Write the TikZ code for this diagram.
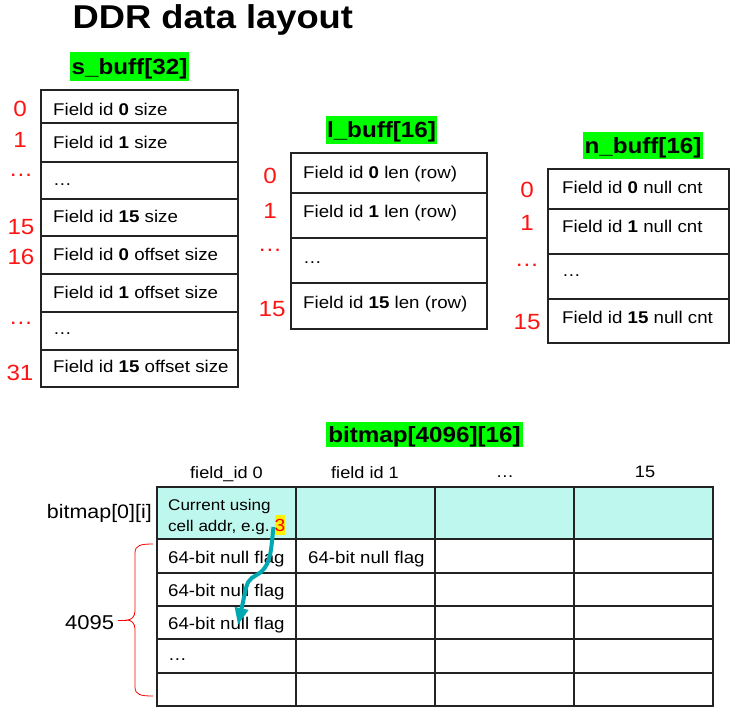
\documentclass[tikz,border=0pt]{standalone}
\usepackage{fontspec}
\setmainfont{Liberation Sans}[FakeStretch=1.1]
\usetikzlibrary{arrows.meta}
\definecolor{lgreen}{RGB}{0,255,0}
\definecolor{idxred}{RGB}{255,20,20}
\definecolor{cyanfill}{RGB}{190,247,237}
\definecolor{tealarrow}{RGB}{0,168,178}
\definecolor{gridc}{RGB}{35,35,35}
\newcommand{\fsz}[1]{\fontsize{#1}{#1}\selectfont}
\tikzset{
  tbl/.style={draw=gridc, line width=1.5pt},
  cellt/.style={anchor=west, inner sep=0pt, text height=12.2pt, text depth=0pt, font=\fsz{17}},
  idx/.style={anchor=center, inner sep=0pt, text height=15.8pt, text depth=0pt, text=idxred, font=\fsz{22}},
  lab/.style={anchor=center, inner sep=0pt, text height=15.8pt, text depth=0pt, font=\fsz{22}\bfseries},
  hdr/.style={anchor=center, inner sep=0pt, text height=11.8pt, text depth=0pt, font=\fsz{16.5}},
  small/.style={anchor=west, inner sep=0pt, text height=11.1pt, text depth=0pt, font=\fsz{15.5}},
}
\begin{document}
\begin{tikzpicture}[x=1pt,y=-1pt]
\useasboundingbox (0,0) rectangle (752,718);
\fill[white] (0,0) rectangle (752,718);

% title
\node[anchor=west, inner sep=0pt, text height=23.6pt, text depth=0pt, font=\fsz{33}\bfseries] (title) at (72.5,16.5) {DDR data layout};

% ---------- s_buff ----------
\fill[lgreen] (70,52) rectangle (189,81);
\node[lab] (slab) at (129.5,66.5) {s\_buff[32]};
\draw[tbl] (41,90) rectangle (238,387);
\foreach \yy in {123,162,199,236,274,312,350} \draw[tbl] (41,\yy) -- (238,\yy);
\node[cellt] (s0)  at (53,109)   {Field id \textbf{0} size};
\node[cellt] (s1)  at (53,142)   {Field id \textbf{1} size};
\node[cellt] (sd)  at (53,179)   {…};
\node[cellt] (s15) at (53,216.5) {Field id \textbf{15} size};
\node[cellt] (s16) at (53,254.5) {Field id \textbf{0} offset size};
\node[cellt] (s17) at (53,292)   {Field id \textbf{1} offset size};
\node[cellt] (sd2) at (53,328)   {…};
\node[cellt] (s31) at (53,366.5) {Field id \textbf{15} offset size};
\node[idx] (si0)  at (20,109)   {0};
\node[idx] (si1)  at (20,140)   {1};
\node[idx] (sid)  at (21,168.5) {…};
\node[idx] (si15) at (21,227)   {15};
\node[idx] (si16) at (21,257)   {16};
\node[idx] (sid2) at (21,316.5) {…};
\node[idx] (si31) at (20,373)   {31};

% ---------- l_buff ----------
\fill[lgreen] (326,116) rectangle (437,144);
\node[lab] (llab) at (381.5,130) {l\_buff[16]};
\draw[tbl] (291,153) rectangle (487,329);
\foreach \yy in {193,238,283} \draw[tbl] (291,\yy) -- (487,\yy);
\node[cellt] (l0)  at (303,172) {Field id \textbf{0} len (row)};
\node[cellt] (l1)  at (303,211) {Field id \textbf{1} len (row)};
\node[cellt] (ld)  at (303,257) {…};
\node[cellt] (l15) at (303,302) {Field id \textbf{15} len (row)};
\node[idx] (li0)  at (270,176)   {0};
\node[idx] (li1)  at (270,211)   {1};
\node[idx] (lid)  at (270,243.5) {…};
\node[idx] (li15) at (272,309)   {15};

% ---------- n_buff ----------
\fill[lgreen] (583,132) rectangle (703,159);
\node[lab] (nlab) at (643,145.5) {n\_buff[16]};
\draw[tbl] (548,169) rectangle (729,343);
\foreach \yy in {209,254,299} \draw[tbl] (548,\yy) -- (729,\yy);
\node[cellt] (n0)  at (562,187) {Field id \textbf{0} null cnt};
\node[cellt] (n1)  at (562,226) {Field id \textbf{1} null cnt};
\node[cellt] (nd)  at (562,270) {…};
\node[cellt] (n15) at (562,317) {Field id \textbf{15} null cnt};
\node[idx] (ni0)  at (527,190)   {0};
\node[idx] (ni1)  at (527,223)   {1};
\node[idx] (nid)  at (527,258.5) {…};
\node[idx] (ni15) at (527,322)   {15};

% ---------- bitmap ----------
\fill[lgreen] (326,422) rectangle (523,447);
\node[lab] (blab) at (424.5,434.5) {bitmap[4096][16]};
\node[hdr] (h0) at (226.5,472.5) {field\_id 0};
\node[hdr] (h1) at (365,472.5)   {field id 1};
\node[hdr] (hd) at (505,472)     {…};
\node[hdr] (h15) at (645,472)    {15};
\fill[cyanfill] (157,487) rectangle (713,539);
\draw[tbl, line width=1.8pt] (157,487) rectangle (713,706);
\foreach \yy in {539,573,606,639,673} \draw[tbl, line width=1.8pt] (157,\yy) -- (713,\yy);
\foreach \xx in {296,435,574} \draw[tbl, line width=1.8pt] (\xx,487) -- (\xx,706);

\node[anchor=base east, inner sep=0pt, font=\fsz{19.5}] (bm0) at (152,518) {bitmap[0][i]};
\node[small] (cur1) at (168,505)   {Current using};
\node[small] (cur2) at (168,525.5) {cell addr, e.g.};
\node[fill=yellow, text=red, inner sep=0pt, minimum width=10.5pt, minimum height=20pt, font=\fsz{17.5}] (three) at (280,525) {3};

\node[cellt] (b1)  at (168,557) {64-bit null flag};
\node[cellt] (b1b) at (308,557) {64-bit null flag};
\node[cellt] (b2)  at (168,590) {64-bit null flag};
\node[cellt] (b3)  at (168,623) {64-bit null flag};
\node[cellt] (bd)  at (168,654) {…};

\node[anchor=west, inner sep=0pt, text height=14.3pt, text depth=0pt, font=\fsz{20}] (cnt) at (65,622) {4095};
\draw[red, line width=0.8pt]
  (153,544) .. controls (141,544) and (135,545) .. (135,553) -- (135,611)
  .. controls (135,617) and (131,620) .. (127,620)
  .. controls (131,620) and (135,623) .. (135,629) -- (135,687)
  .. controls (135,695) and (141,696) .. (153,696);
\coordinate (bt) at (118,620);
\draw[red, line width=0.8pt] (bt) -- (127,620);

\coordinate (arrend) at (238,625);
\draw[tealarrow, line width=4pt, -{Triangle[length=17pt,width=13pt]}]
  ([xshift=-1pt,yshift=-2pt]three.west) .. controls (271,550) and (271,563) .. (261,572)
  .. controls (253,578) and (249,577) .. (246,588) -- (arrend);
\end{tikzpicture}
\end{document}
